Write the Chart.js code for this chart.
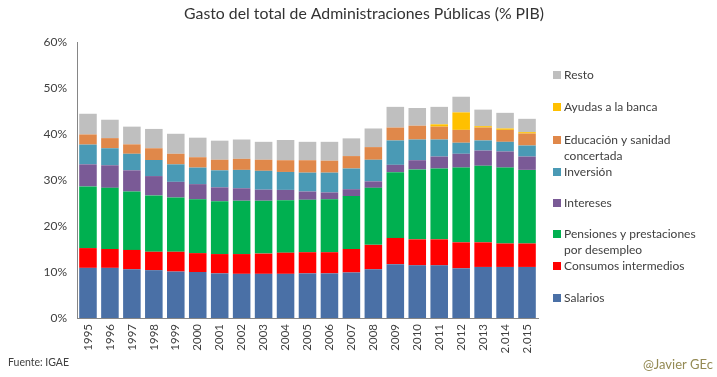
<!DOCTYPE html>
<html>
<head>
<meta charset="utf-8">
<script src="https://cdn.jsdelivr.net/npm/chart.js@4"></script>
<style>
	html, body { margin: 0; padding: 0; background: #fff; }
	#wrap { width: 717px; height: 377px; }
</style>
</head>
<body>
<div id="wrap"><canvas id="gasto" width="717" height="377"></canvas></div>
<script>
// años (las etiquetas 2014 y 2015 vienen con punto en el original)
const years = ["1995", "1996", "1997", "1998", "1999", "2000", "2001", "2002", "2003", "2004", "2005",
	"2006", "2007", "2008", "2009", "2010", "2011", "2012", "2013", "2.014", "2.015"];

// % del PIB
const salarios = [10.9, 10.9, 10.6, 10.4, 10.1, 10.0, 9.7, 9.6, 9.6, 9.6, 9.7, 9.7, 9.9, 10.6, 11.7, 11.45, 11.45, 10.8, 11.1, 11.1, 11.1];
const consumos = [4.3, 4.1, 4.2, 4.0, 4.3, 4.1, 4.2, 4.3, 4.4, 4.6, 4.6, 4.6, 5.1, 5.3, 5.7, 5.65, 5.65, 5.65, 5.35, 5.1, 5.1];
const pensiones = [13.4, 13.3, 12.7, 12.25, 11.8, 11.7, 11.5, 11.6, 11.5, 11.4, 11.4, 11.5, 11.5, 12.4, 14.3, 15.2, 15.4, 16.25, 16.65, 16.5, 16.0];
const intereses = [4.8, 4.9, 4.6, 4.2, 3.4, 3.3, 3.0, 2.7, 2.4, 2.25, 1.8, 1.5, 1.5, 1.4, 1.6, 2.0, 2.6, 3.0, 3.3, 3.5, 2.9];
const inversion = [4.3, 3.7, 3.6, 3.5, 3.8, 3.6, 3.7, 4.0, 4.1, 3.9, 4.1, 4.3, 4.5, 4.7, 5.3, 4.5, 3.7, 2.4, 2.2, 2.1, 2.4];
const educacion = [2.2, 2.2, 2.05, 2.55, 2.3, 2.25, 2.3, 2.4, 2.4, 2.55, 2.7, 2.6, 2.7, 2.75, 2.8, 3.0, 2.8, 2.8, 2.8, 2.6, 2.6];
const ayudas = [0, 0, 0, 0, 0, 0, 0, 0, 0, 0, 0, 0, 0, 0, 0, 0, 0.5, 3.8, 0.3, 0.3, 0.3];
const resto = [4.5, 4.0, 3.85, 4.2, 4.35, 4.25, 4.15, 4.2, 3.9, 4.4, 4.0, 4.1, 3.85, 4.05, 4.5, 3.85, 3.8, 3.4, 3.6, 3.4, 2.9];

const yTicks = [0, 10, 20, 30, 40, 50, 60];

const FONT = "Lato, 'Liberation Sans', sans-serif";
const TXT = "#404040";

// leyenda a la derecha, de arriba abajo (y de la primera línea de cada entrada)
const legendRows = [75, 107, 140, 172, 203, 234, 266, 298];

const extras = {
	id: "extras",
	afterDraw(chart) {
		const c = chart.ctx;
		c.save();
		c.textBaseline = "middle";

		// título
		c.fillStyle = "#333333";
		c.font = "15.8px " + FONT;
		c.textAlign = "center";
		c.fillText("Gasto del total de Administraciones Públicas (% PIB)", 364, 14);

		// leyenda
		c.font = "12px " + FONT;
		c.textAlign = "left";
		const ds = chart.data.datasets.slice().reverse();
		ds.forEach((d, i) => {
			const y = legendRows[i];
			c.fillStyle = d.backgroundColor;
			c.fillRect(553, y - 4, 8, 8);
			c.fillStyle = TXT;
			const lines = Array.isArray(d.legendText) ? d.legendText : [d.label];
			lines.forEach((t, k) => c.fillText(t, 564, y + k * 16));
		});

		// pie
		c.font = "10.5px " + FONT;
		c.fillStyle = TXT;
		c.fillText("Fuente: IGAE", 8, 363);
		c.font = "13px " + FONT;
		c.fillStyle = "#948a54";
		c.textAlign = "right";
		c.fillText("@Javier GEc", 713, 365);
		c.restore();
	},
};

const ctx = document.getElementById("gasto");

new Chart(ctx, {
	type: "bar",
	data: {
		labels: years,
		datasets: [
			{ label: "Salarios", data: salarios, backgroundColor: "#4a70a6" },
			{ label: "Consumos intermedios", data: consumos, backgroundColor: "#ff0000" },
			{ label: "Pensiones y prestaciones por desempleo", legendText: ["Pensiones y prestaciones", "por desempleo"], data: pensiones, backgroundColor: "#00b050" },
			{ label: "Intereses", data: intereses, backgroundColor: "#7a5a96" },
			{ label: "Inversión", data: inversion, backgroundColor: "#4a9ab5" },
			{ label: "Educación y sanidad concertada", legendText: ["Educación y sanidad", "concertada"], data: educacion, backgroundColor: "#e0884a" },
			{ label: "Ayudas a la banca", data: ayudas, backgroundColor: "#ffc000" },
			{ label: "Resto", data: resto, backgroundColor: "#bfbfbf" },
		],
	},
	options: {
		responsive: false,
		animation: false,
		layout: {
			padding: { left: 0, right: 179, top: 42, bottom: 19 },
		},
		datasets: {
			bar: { barPercentage: 0.8, categoryPercentage: 1.0 },
		},
		plugins: {
			legend: { display: false },
			title: { display: false },
			tooltip: { enabled: false },
		},
		scales: {
			x: {
				stacked: true,
				grid: { display: false, drawTicks: false },
				border: { display: true, color: "#868686", width: 1 },
				ticks: {
					minRotation: 90,
					maxRotation: 90,
					autoSkip: false,
					padding: 6,
					color: TXT,
					font: { family: FONT, size: 11.5 },
				},
				afterFit: (scale) => { scale.height = 40; },
			},
			y: {
				stacked: true,
				min: 0,
				max: 60,
				grid: { display: false, drawTicks: false },
				border: { display: true, color: "#868686", width: 1 },
				afterBuildTicks: (scale) => { scale.ticks = yTicks.map((v) => ({ value: v })); },
				ticks: {
					padding: 10,
					color: TXT,
					font: { family: FONT, size: 12 },
					callback: (v) => v + "%",
				},
				afterFit: (scale) => { scale.width = 77; },
			},
		},
	},
	plugins: [extras],
});
</script>
</body>
</html>
